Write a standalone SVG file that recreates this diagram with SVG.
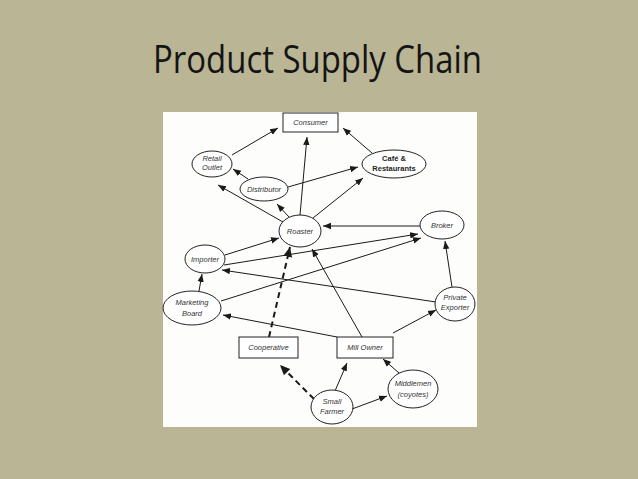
<svg xmlns="http://www.w3.org/2000/svg" width="638" height="479" viewBox="0 0 638 479">
<defs>
<marker id="ah" markerUnits="userSpaceOnUse" markerWidth="8" markerHeight="8" viewBox="0 0 8 8" refX="8" refY="4" orient="auto"><path d="M0,0.8 L8,4 L0,7.2 Z" fill="#1a1a1a"/></marker>
<marker id="ahb" markerUnits="userSpaceOnUse" markerWidth="10" markerHeight="10" viewBox="0 0 10 10" refX="10" refY="5" orient="auto"><path d="M0,0.5 L10,5 L0,9.5 Z" fill="#1a1a1a"/></marker>
</defs>
<style>
.n{fill:#fff;stroke:#222;stroke-width:1}
.t{font-family:"Liberation Sans",Arial,sans-serif;font-size:7.5px;font-style:italic;fill:#333;text-anchor:middle}
.b{font-family:"Liberation Sans",Arial,sans-serif;font-size:7.5px;font-weight:bold;fill:#222;text-anchor:middle}
.e{stroke:#1a1a1a;stroke-width:1;fill:none;marker-end:url(#ah)}
.d{stroke:#1a1a1a;stroke-width:2;fill:none;stroke-dasharray:6,4;marker-end:url(#ahb)}
</style>
<rect width="638" height="479" fill="#bab594"/>
<text x="153" y="73" font-family="'Open Sans','Noto Sans',sans-serif" font-size="39" fill="#141414" textLength="329" lengthAdjust="spacingAndGlyphs">Product Supply Chain</text>
<rect x="163" y="112" width="314" height="315" fill="#fdfdfb"/>
<g id="connectors">
<path class="e" d="M232,155 L278,128"/>
<path class="e" d="M372,153 L343,128"/>
<path class="e" d="M300,215 L307,137"/>
<path class="e" d="M248,179 L233,169"/>
<path class="e" d="M288,187 L358,167"/>
<path class="e" d="M313,218 L363,178"/>
<path class="e" d="M283,222 L218,185"/>
<path class="e" d="M289,217 L277,204"/>
<path class="e" d="M420,226 L323,226"/>
<path class="e" d="M225,255 L279,238"/>
<path class="e" d="M224,265 L418,234"/>
<path class="e" d="M221,301 L421,238"/>
<path class="e" d="M436,302 L222,270"/>
<path class="e" d="M199,291 L202,274"/>
<path class="e" d="M452,287 L445,241"/>
<path class="e" d="M362,337 L312,249"/>
<path class="e" d="M337,337 L223,315"/>
<path class="e" d="M393,333 L436,310"/>
<path class="d" d="M269,337 L290,247"/>
<path class="d" d="M314,399 L280,365"/>
<path class="e" d="M335,391 L347,363"/>
<path class="e" d="M352,409 L387,396"/>
<path class="e" d="M399,373 L383,359"/>
</g>
<g id="consumer"><rect class="n" x="283" y="113" width="55" height="19"/><text class="t" x="310.5" y="125">Consumer</text></g>
<g id="retail"><ellipse class="n" cx="212" cy="164" rx="20" ry="13"/><text class="t" x="212" y="161">Retail</text><text class="t" x="212" y="170">Outlet</text></g>
<g id="cafe"><ellipse class="n" cx="394" cy="164" rx="32" ry="14"/><text class="b" x="394" y="161">Café &amp;</text><text class="b" x="394" y="171">Restaurants</text></g>
<g id="distributor"><ellipse class="n" cx="264" cy="189" rx="24" ry="12"/><text class="t" x="264" y="192">Distributor</text></g>
<g id="roaster"><ellipse class="n" cx="300" cy="231" rx="21" ry="16"/><text class="t" x="300" y="234">Roaster</text></g>
<g id="broker"><ellipse class="n" cx="442" cy="225" rx="22" ry="14"/><text class="t" x="442" y="228">Broker</text></g>
<g id="importer"><ellipse class="n" cx="205" cy="259" rx="20" ry="14"/><text class="t" x="205" y="262">Importer</text></g>
<g id="marketing"><ellipse class="n" cx="192" cy="308" rx="29" ry="17"/><text class="t" x="192" y="305">Marketing</text><text class="t" x="192" y="316">Board</text></g>
<g id="exporter"><ellipse class="n" cx="455" cy="304" rx="20" ry="17"/><text class="t" x="455" y="300">Private</text><text class="t" x="455" y="310">Exporter</text></g>
<g id="cooperative"><rect class="n" x="239" y="337" width="59" height="21"/><text class="t" x="268.5" y="350">Cooperative</text></g>
<g id="millowner"><rect class="n" x="337" y="337" width="56" height="21"/><text class="t" x="365" y="350">Mill Owner</text></g>
<g id="farmer"><ellipse class="n" cx="332" cy="407" rx="21" ry="17"/><text class="t" x="332" y="404">Small</text><text class="t" x="332" y="414">Farmer</text></g>
<g id="middlemen"><ellipse class="n" cx="413" cy="389" rx="25" ry="19"/><text class="t" x="413" y="386">Middlemen</text><text class="t" x="413" y="397">(coyotes)</text></g>
</svg>
